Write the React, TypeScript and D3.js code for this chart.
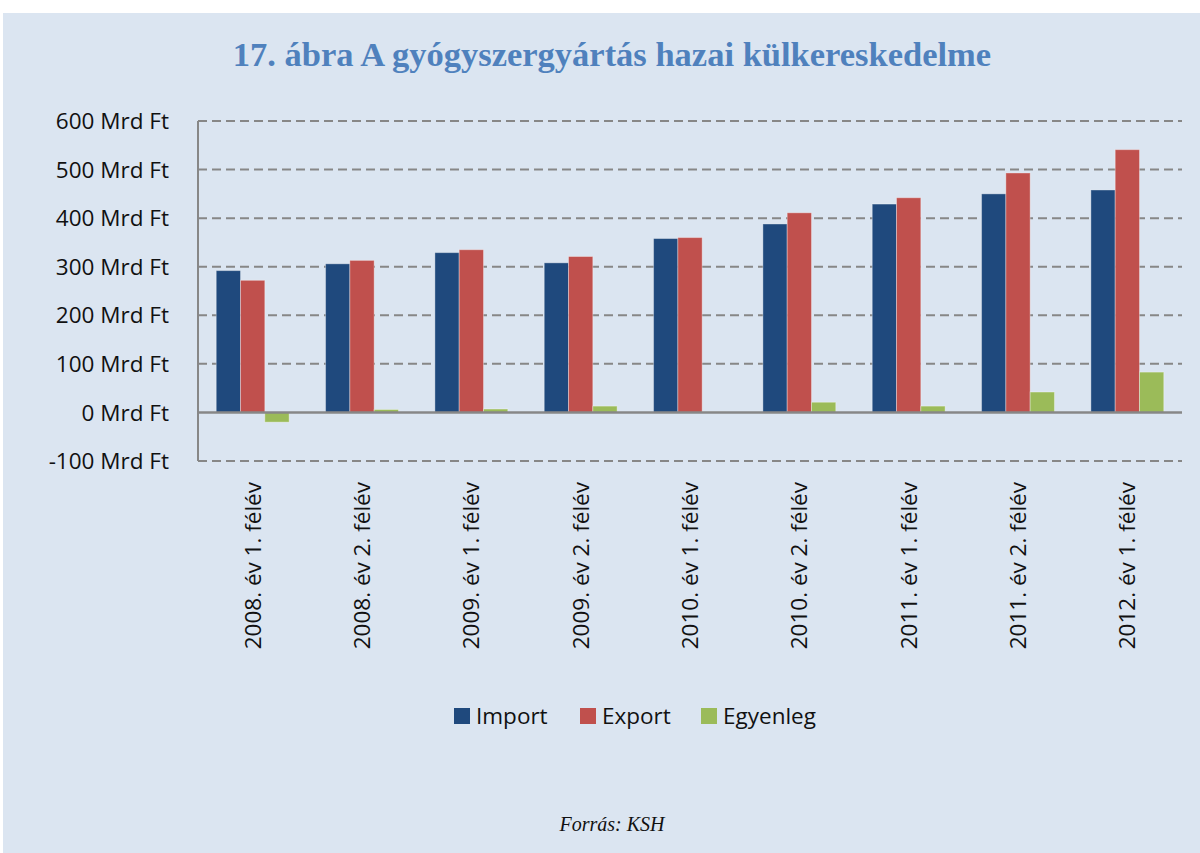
import React from "react";
import * as d3 from "d3";

const categories = [
  "2008. év 1. félév",
  "2008. év 2. félév",
  "2009. év 1. félév",
  "2009. év 2. félév",
  "2010. év 1. félév",
  "2010. év 2. félév",
  "2011. év 1. félév",
  "2011. év 2. félév",
  "2012. év 1. félév",
];
const seriesNames = ["Import", "Export", "Egyenleg"];
const importValues = [292, 306, 329, 308, 358, 388, 429, 450, 458];
const exportValues = [272, 313, 335, 321, 360, 411, 442, 493, 541];
const balanceValues = [-20, 6, 7, 13, 1, 21, 13, 42, 83];
const yTicks = [-100, 0, 100, 200, 300, 400, 500, 600];
const seriesColors = ["#1F497D", "#C0504D", "#9BBB59"];

const W = 1200;
const H = 853;
const plotLeft = 198;
const plotRight = 1182;
const plotTop = 121;
const plotBottom = 461;

export default function App() {
  const x = d3
    .scaleBand<string>()
    .domain(categories)
    .range([plotLeft, plotRight])
    .paddingInner(1 / 3)
    .paddingOuter(1 / 6);
  const inner = d3.scaleBand<string>().domain(seriesNames).range([0, x.bandwidth()]);
  const y = d3.scaleLinear().domain([-100, 600]).range([plotBottom, plotTop]);
  const series = [importValues, exportValues, balanceValues];
  const labelFont = "'Open Sans', 'Noto Sans', sans-serif";
  const labelSize = 22.5;

  const legendItems = [
    { name: "Import", x: 454 },
    { name: "Export", x: 580 },
    { name: "Egyenleg", x: 701 },
  ];

  return (
    <svg
      width={W}
      height={H}
      style={{ position: "absolute", left: 0, top: 0, display: "block" }}
    >
      <rect x={0} y={0} width={W} height={H} fill="#ffffff" />
      <rect x={3} y={13} width={W - 3} height={H - 13} fill="#DBE5F1" />
      <text
        x={612}
        y={66}
        textAnchor="middle"
        fontFamily="'Liberation Serif', 'DejaVu Serif', serif"
        fontWeight="bold"
        fontSize={34.5}
        fill="#4F81BD"
      >
        17. ábra A gyógyszergyártás hazai külkereskedelme
      </text>

      {/* gridlines */}
      {yTicks
        .filter((t) => t !== 0)
        .map((t) => (
          <line
            key={"g" + t}
            x1={plotLeft}
            x2={plotRight}
            y1={y(t)}
            y2={y(t)}
            stroke="#878787"
            strokeWidth={2}
            strokeDasharray="9,5"
          />
        ))}

      {/* y labels */}
      {yTicks.map((t) => (
        <text
          key={"yl" + t}
          x={169}
          y={y(t)}
          dy="0.36em"
          textAnchor="end"
          fontFamily={labelFont}
          fontSize={labelSize}
          fill="#111"
        >
          {t} Mrd Ft
        </text>
      ))}

      {/* bars */}
      {series.map((vals, si) =>
        vals.map((v, ci) => {
          const bx = (x(categories[ci]) as number) + (inner(seriesNames[si]) as number);
          const y0 = y(0);
          const yv = y(v);
          return (
            <rect
              key={si + "-" + ci}
              x={bx}
              y={Math.min(y0, yv)}
              width={inner.bandwidth()}
              height={Math.abs(yv - y0)}
              fill={seriesColors[si]}
              stroke="rgba(255,255,255,0.35)"
              strokeWidth={1}
            />
          );
        })
      )}

      {/* axes */}
      <line x1={plotLeft} x2={plotLeft} y1={plotTop} y2={plotBottom} stroke="#878787" strokeWidth={2} />
      <line x1={plotLeft} x2={plotRight} y1={y(0)} y2={y(0)} stroke="#878787" strokeWidth={2.5} />

      {/* x labels */}
      {categories.map((c) => {
        const cx = (x(c) as number) + x.bandwidth() / 2;
        return (
          <text
            key={"xl" + c}
            transform={`translate(${cx},${482}) rotate(-90)`}
            dy="0.36em"
            textAnchor="end"
            fontFamily={labelFont}
            fontSize={labelSize}
            fill="#111"
          >
            {c}
          </text>
        );
      })}

      {/* legend */}
      {legendItems.map((it, i) => (
        <g key={it.name}>
          <rect x={it.x} y={708} width={16} height={16} fill={seriesColors[i]} />
          <text
            x={it.x + 22}
            y={716}
            dy="0.36em"
            fontFamily={labelFont}
            fontSize={labelSize}
            fill="#111"
          >
            {it.name}
          </text>
        </g>
      ))}

      <text
        x={612}
        y={831}
        textAnchor="middle"
        fontFamily="'Liberation Serif', 'DejaVu Serif', serif"
        fontStyle="italic"
        fontSize={20}
        fill="#111"
      >
        Forrás: KSH
      </text>
    </svg>
  );
}
